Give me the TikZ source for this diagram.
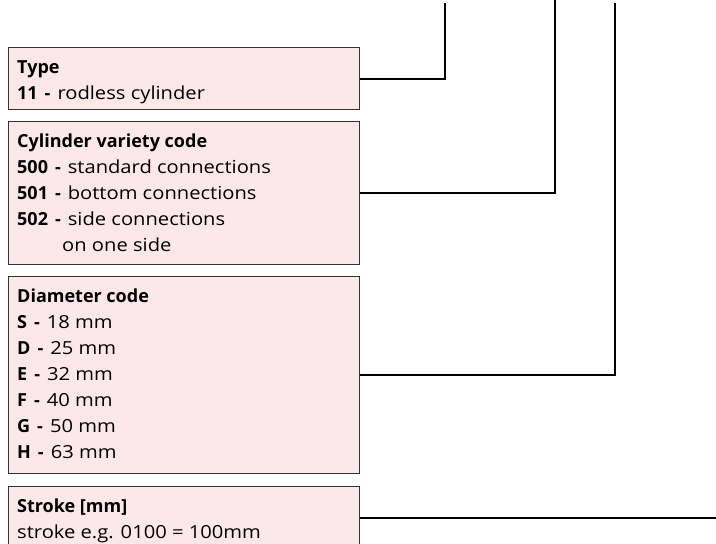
\documentclass[tikz,border=0pt]{standalone}
\usepackage{fontspec}
\setmainfont{Open Sans}[FakeStretch=1.12, BoldFeatures={FakeStretch=1.0}]
\definecolor{boxfill}{RGB}{253,232,232}
\definecolor{boxdraw}{RGB}{51,51,51}
\tikzset{
  infobox/.style={draw=boxdraw, line width=1pt, fill=boxfill, rectangle, inner sep=0pt,
    anchor=north west, minimum width=351.5pt},
  lead/.style={line width=2pt, draw=black},
  txt/.style={anchor=base west, inner sep=0pt, font=\fontsize{18}{26}\selectfont}
}
\newcommand\boxlines[1]{\vtop{\baselineskip=26pt\lineskiplimit=-20pt\lineskip=0pt #1}}
\newcommand\bline[1]{\hbox{#1}}
\newcommand\code[1]{\textbf{#1\hspace{7pt}-}\hspace{7pt}}
\begin{document}
\begin{tikzpicture}[x=1pt,y=-1pt]
\useasboundingbox (0,0) rectangle (716,544);
\clip (0,0) rectangle (716,544);
\node[infobox, minimum height=62pt] (type) at (7.5,47) {};
\node[infobox, minimum height=143pt] (variety) at (7.5,121) {};
\node[infobox, minimum height=197pt] (diam) at (7.5,276) {};
\node[infobox, minimum height=62pt] (stroke) at (7.5,486) {};

\node[txt] (typetext) at (17,73) {\boxlines{%
  \bline{\textbf{Type}}%
  \bline{\code{11}rodless cylinder}}};
\node[txt] (varietytext) at (17,147) {\boxlines{%
  \bline{\textbf{Cylinder variety code}}%
  \bline{\code{500}standard connections}%
  \bline{\code{501}bottom connections}%
  \bline{\code{502}side connections}%
  \bline{\hspace{45pt}on one side}}};
\node[txt] (diamtext) at (17,302) {\boxlines{%
  \bline{\textbf{Diameter code}}%
  \bline{\code{S}18 mm}%
  \bline{\code{D}25 mm}%
  \bline{\code{E}32 mm}%
  \bline{\code{F}40 mm}%
  \bline{\code{G}50 mm}%
  \bline{\code{H}63 mm}}};
\node[txt] (stroketext) at (17,512) {\boxlines{%
  \bline{\textbf{Stroke [mm]}}%
  \bline{stroke e.g. 0100 = 100mm}}};

\coordinate (t1) at (445,3);
\coordinate (t2) at (555,0);
\coordinate (t3) at (615,3);
\coordinate (edge) at (716,0);
\draw[lead] (type.east) -| (t1);
\draw[lead] (variety.east) -| (t2);
\draw[lead] (diam.east) -| (t3);
\draw[lead] (stroke.east) -- (stroke.east -| edge);
\end{tikzpicture}
\end{document}
